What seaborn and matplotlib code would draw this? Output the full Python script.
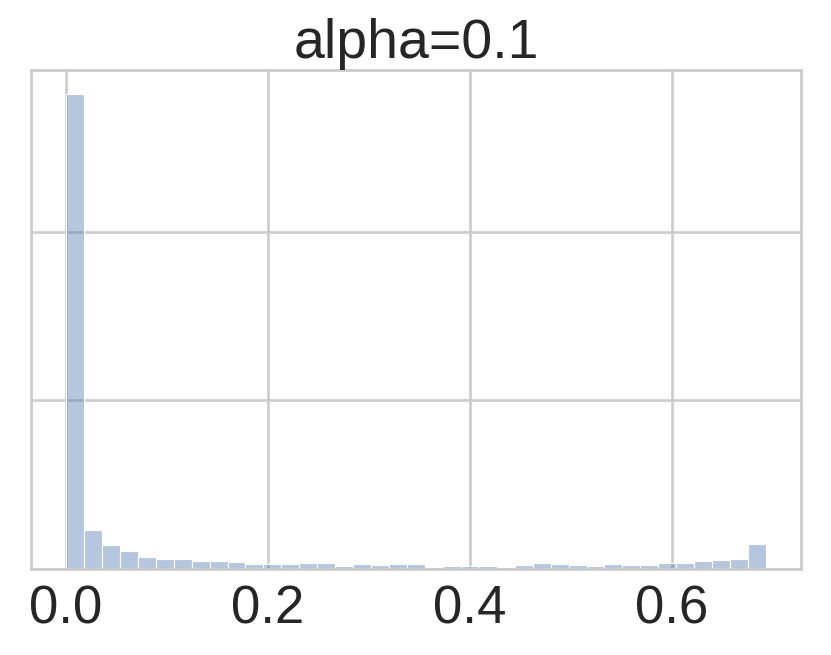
import numpy as np
import pandas as pd
import seaborn as sns
import matplotlib
matplotlib.use("Agg")
import matplotlib.pyplot as plt

# ---- data ----
title = "alpha=0.1"
n_bins = 39
x_min, x_max = 0.0, 0.6931
counts = [5638, 463, 285, 217, 142, 122, 122, 91, 99, 80,
          63, 63, 56, 68, 75, 39, 56, 51, 56, 59,
          27, 36, 39, 39, 27, 44, 68, 59, 51, 39,
          56, 51, 51, 68, 68, 91, 107, 119, 293]
x_ticks = [0.0, 0.2, 0.4, 0.6]
x_tick_labels = ["0.0", "0.2", "0.4", "0.6"]
y_ticks = [0, 2000, 4000]

edges = np.linspace(x_min, x_max, n_bins + 1)
centers = (edges[:-1] + edges[1:]) / 2
df = pd.DataFrame({"value": centers, "count": counts})

sns.set_theme(style="whitegrid")
plt.rcParams['font.family'] = ['Liberation Sans', 'DejaVu Sans']

fig = plt.figure(figsize=(8.31, 6.55), dpi=100)
ax = fig.add_axes([0.0373, 0.1313, 0.9266, 0.7618])

sns.histplot(data=df, x="value", weights="count", bins=n_bins,
             binrange=(x_min, x_max), ax=ax,
             color="#4C72B0", alpha=0.4, edgecolor="white", linewidth=0.8)

ax.set_xticks(x_ticks)
ax.set_xticklabels(x_tick_labels)
ax.set_yticks(y_ticks)
ax.set_yticklabels([])
ax.set_xlabel("")
ax.set_ylabel("")
ax.tick_params(axis="x", labelsize=38, pad=11, length=0, colors="#262626")
ax.tick_params(axis="y", length=0)
ax.grid(True, color="#cccccc", linewidth=1.9)
for s in ax.spines.values():
    s.set_color("#cccccc")
    s.set_linewidth(2.0)
ax.set_title(title, fontsize=40, color="#262626", pad=9)

fig.savefig("out.png", dpi=100)
